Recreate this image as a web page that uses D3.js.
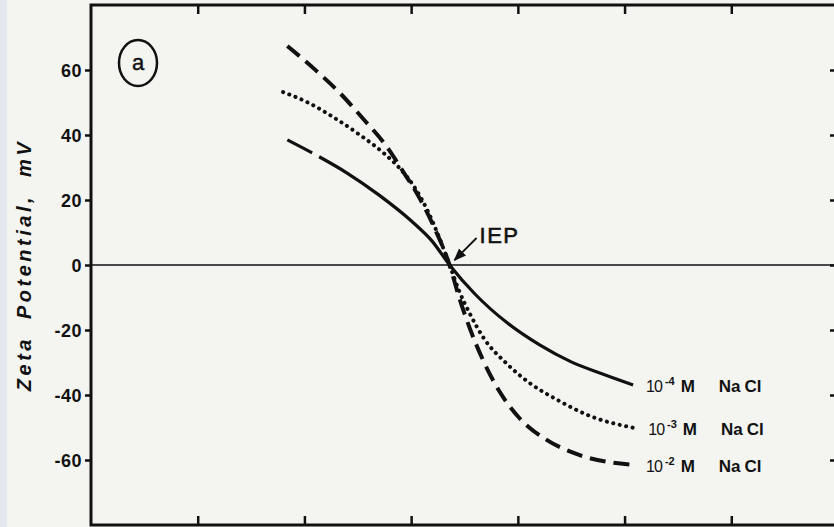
<!DOCTYPE html>
<html>
<head>
<meta charset="utf-8">
<script src="https://cdn.jsdelivr.net/npm/d3@7"></script>
<style>
  html, body { margin: 0; padding: 0; background: #f4f4f1; }
  svg { display: block; }
</style>
</head>
<body>
<div id="chart"></div>
<script>
// data (x axis is pH-like, unlabeled in the crop)
const yTicks = [60, 40, 20, 0, -20, -40, -60];
const xTicks = [3, 4, 5, 6, 7, 8];

const phLow = [3.84, 4.1, 4.4, 4.7, 5.0, 5.2, 5.36, 5.6, 5.9, 6.2, 6.5, 6.8, 7.08];
const zetaLow = [38.5, 34.0, 28.3, 21.5, 13.6, 7.2, 0, -9.0, -17.8, -24.5, -29.8, -33.6, -36.9];

const phMid = [3.80, 4.02, 4.27, 4.52, 4.74, 4.90, 5.02, 5.15, 5.25, 5.36, 5.45, 5.55, 5.67, 5.90, 6.11, 6.37, 6.68, 7.10];
const zetaMid = [53.2, 50.2, 45.5, 40.0, 34.5, 29.5, 24.5, 17.0, 9.5, 0, -8.0, -15.0, -22.0, -30.5, -36.3, -41.5, -46.5, -50.2];

const phHigh = [3.84, 4.12, 4.33, 4.55, 4.77, 4.92, 5.08, 5.21, 5.36, 5.45, 5.55, 5.67, 5.83, 6.02, 6.27, 6.58, 7.08];
const zetaHigh = [67.4, 59.5, 53.0, 45.0, 36.5, 29.0, 20.5, 12.0, 0, -10.0, -19.5, -29.0, -39.0, -47.3, -53.8, -58.5, -61.5];

const seriesExp = ['-4', '-3', '-2'];
const iep = {ph: 5.36, zeta: 0};

const width = 834;
const height = 527;

const svg = d3.select('#chart').append('svg')
    .attr('width', width)
    .attr('height', height);

// scanned page edge
svg.append('rect').attr('x', 0).attr('y', 0).attr('width', width).attr('height', height)
    .attr('fill', '#f4f4f1');
svg.append('rect').attr('x', 0).attr('y', 0).attr('width', 7).attr('height', height)
    .attr('fill', '#e3e7ee');

const x = d3.scaleLinear().domain([2, 9]).range([91, 838]);
const y = d3.scaleLinear().domain([-80, 80]).range([525, 5]);

const ink = '#111';
const font = 'Liberation Sans, Arial, sans-serif';

// left axis
svg.append('g')
    .attr('transform', `translate(${x(2)},0)`)
    .call(d3.axisLeft(y).tickValues(yTicks).tickSize(6).tickPadding(3)
        .tickFormat((d) => d < 0 ? '-' + Math.abs(d) : d))
    .call((g) => g.select('.domain').remove())
    .call((g) => g.selectAll('line').attr('stroke', ink).attr('stroke-width', 2.5))
    .call((g) => g.selectAll('text')
        .attr('fill', ink)
        .attr('dy', '0.36em')
        .style('font-family', font)
        .style('font-weight', 'bold')
        .style('font-size', '18px')
        .attr('letter-spacing', '0.5px'));

// right axis ticks (inward)
svg.append('g')
    .attr('transform', `translate(${x(9)},0)`)
    .call(d3.axisLeft(y).tickValues(yTicks).tickSize(8).tickFormat(''))
    .call((g) => g.select('.domain').remove())
    .call((g) => g.selectAll('line').attr('stroke', ink).attr('stroke-width', 2.5));

// top & bottom ticks (inward)
svg.append('g')
    .attr('transform', `translate(0,${y(80)})`)
    .call(d3.axisBottom(x).tickValues(xTicks).tickSize(9).tickFormat(''))
    .call((g) => g.select('.domain').remove())
    .call((g) => g.selectAll('line').attr('stroke', ink).attr('stroke-width', 2.5));
svg.append('g')
    .attr('transform', `translate(0,${y(-80)})`)
    .call(d3.axisTop(x).tickValues(xTicks).tickSize(9).tickFormat(''))
    .call((g) => g.select('.domain').remove())
    .call((g) => g.selectAll('line').attr('stroke', ink).attr('stroke-width', 2.5));

// frame
svg.append('rect')
    .attr('x', x(2)).attr('y', y(80))
    .attr('width', x(9) - x(2)).attr('height', y(-80) - y(80))
    .attr('fill', 'none').attr('stroke', ink).attr('stroke-width', 3);

// zero line
svg.append('line')
    .attr('x1', x(2)).attr('x2', x(9))
    .attr('y1', y(0)).attr('y2', y(0))
    .attr('stroke', ink).attr('stroke-width', 1.6);

// curves
const line = d3.line()
    .x((d) => x(d[0]))
    .y((d) => y(d[1]))
    .curve(d3.curveMonotoneX);

const curves = [
  {ph: phLow, zeta: zetaLow, dash: '28,8,2000', width: 3.2, cap: 'butt'},
  {ph: phMid, zeta: zetaMid, dash: '0.1,6.5', width: 4, cap: 'round'},
  {ph: phHigh, zeta: zetaHigh, dash: '16,8', width: 4, cap: 'butt'}
];

curves.forEach((c) => {
  svg.append('path')
      .datum(d3.zip(c.ph, c.zeta))
      .attr('d', line)
      .attr('fill', 'none')
      .attr('stroke', ink)
      .attr('stroke-width', c.width)
      .attr('stroke-linecap', c.cap)
      .attr('stroke-dasharray', c.dash);
});

// series labels
curves.forEach((c, i) => {
  const last = c.zeta[c.zeta.length - 1];
  const t = svg.append('text')
      .attr('x', x(c.ph[c.ph.length - 1]) + 13)
      .attr('y', y(last) + 7)
      .attr('fill', ink)
      .style('font-family', font)
      .style('font-size', '16px');
  t.append('tspan').attr('letter-spacing', '-1px').text('10');
  t.append('tspan').attr('dy', -7).attr('dx', 3).style('font-size', '11px')
      .style('font-weight', 'bold').text(seriesExp[i]);
  t.append('tspan').attr('dy', 7).attr('dx', 6).style('font-size', '17px')
      .style('font-weight', 'bold').text('M');
  t.append('tspan').attr('dx', 24).style('font-size', '17px')
      .style('font-weight', 'bold').text('Na');
  t.append('tspan').attr('dx', 4).style('font-size', '17px')
      .style('font-weight', 'bold').text('Cl');
});

// IEP annotation
svg.append('defs').append('marker')
    .attr('id', 'arrow')
    .attr('viewBox', '0 0 10 10')
    .attr('refX', 9).attr('refY', 5)
    .attr('markerWidth', 7).attr('markerHeight', 7)
    .attr('orient', 'auto')
    .append('path').attr('d', 'M0,1L10,5L0,9Z').attr('fill', ink);

svg.append('line')
    .attr('x1', x(iep.ph) + 27).attr('y1', y(iep.zeta) - 27)
    .attr('x2', x(iep.ph) + 5).attr('y2', y(iep.zeta) - 5)
    .attr('stroke', ink).attr('stroke-width', 1.8)
    .attr('marker-end', 'url(#arrow)');

svg.append('text')
    .attr('x', x(iep.ph) + 30).attr('y', y(iep.zeta) - 22)
    .attr('fill', ink)
    .attr('stroke', ink)
    .attr('stroke-width', 0.6)
    .style('font-family', font)
    .style('font-size', '22px')
    .attr('letter-spacing', '1.5px')
    .text('IEP');

// panel marker
svg.append('ellipse')
    .attr('cx', 138).attr('cy', 63).attr('rx', 19).attr('ry', 23)
    .attr('fill', 'none').attr('stroke', ink).attr('stroke-width', 2.5);
svg.append('text')
    .attr('x', 138).attr('y', 70)
    .attr('text-anchor', 'middle')
    .attr('fill', ink)
    .attr('stroke', ink)
    .attr('stroke-width', 0.4)
    .style('font-family', font)
    .style('font-size', '22px')
    .text('a');

// y axis title
svg.append('text')
    .attr('transform', `translate(31,${y(0)}) rotate(-90)`)
    .attr('text-anchor', 'middle')
    .attr('fill', ink)
    .style('font-family', font)
    .style('font-weight', 'bold')
    .style('font-style', 'italic')
    .style('font-size', '20px')
    .attr('letter-spacing', '3.5px')
    .attr('word-spacing', '8px')
    .text('Zeta Potential, mV');
</script>
</body>
</html>
